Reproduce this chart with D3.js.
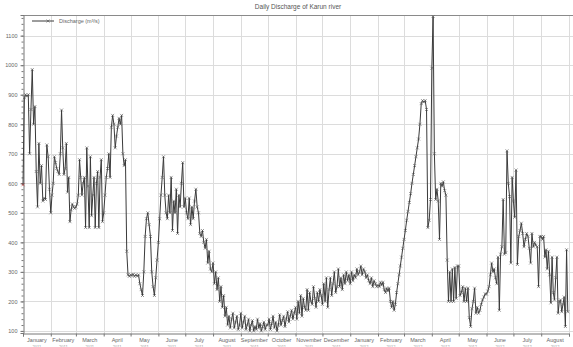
<!DOCTYPE html>
<html>
<head>
<meta charset="utf-8">
<script src="https://cdn.jsdelivr.net/npm/d3@7"></script>
<style>
  body { margin: 0; background: #fff; }
  svg { display: block; }
  text { font-family: "Liberation Sans", Arial, sans-serif; }
</style>
</head>
<body>
<svg id="chart" width="573" height="347"></svg>
<script>
// ---- data -------------------------------------------------------------
const chartTitle = "Daily Discharge of Karun river";
const seriesName = "Discharge (m\u00B3/s)";

const monthNames = ["January","February","March","April","May","June","July","August",
  "September","October","November","December","January","February","March","April",
  "May","June","July","August"];
const monthYears = [2011,2011,2011,2011,2011,2011,2011,2011,2011,2011,2011,2011,
  2012,2012,2012,2012,2012,2012,2012,2012];
const yTickValues = [100,200,300,400,500,600,700,800,900,1000,1100];

// daily discharge readings (m3/s), listed month by month
const jan2011 = [595,890,900,895,900,700,850,985,800,860,640,520,735,600,660,540,550,545,730,690,580];
const feb2011 = [500,560,600,690,670,650,640,630,700,848,720,630,650,735,570,620,470,510,530,520,515];
const mar2011 = [520,530,560,680,620,560,600,620,450,720,590,450,690,490,560,620,450,600,640,450,620,680,470];
const apr2011 = [500,560,620,650,700,620,790,830,800,720,760,790,820,800,830,700,660,680,370,290,285];
const may2011 = [290,288,292,285,290,286,290,260,240,220,300,420,480,500,460,420,300,250,220,280,340];
const jun2011 = [400,480,560,620,690,560,500,480,560,500,620,440,540,500,580,430,560,520,600,670,520];
const jul2011 = [550,500,480,550,460,520,480,540,580,520,500,430,420,440,400,380,410,330,370,310,300];
const aug2011 = [330,260,300,240,280,200,250,180,220,150,180,120,150,110,140,160,110,130,150,105,120];
const sep2011 = [160,110,130,150,105,120,140,100,120,135,100,115,105,140,110,125,100,115,130,105,120];
const oct2011 = [120,140,105,125,150,110,130,100,120,155,120,135,150,115,140,165,130,150,170,140,160];
const nov2011 = [180,140,200,160,220,150,210,180,170,240,170,230,200,190,250,210,180,230,200,240,220];
const dec2011 = [190,260,200,280,180,240,280,220,260,300,230,250,310,250,280,240,290,260,300,270,290];
const jan2012 = [260,300,270,290,280,310,290,300,320,290,310,300,280,290,270,260,280,250,270,260,250];
const feb2012 = [255,250,265,255,265,240,230,245,235,245,200,180,200,170,190,230,260,290,320,350,380];
const mar2012 = [410,440,475,505,535,565,600,630,660,690,720,750,800,870,880,875,880,850,450,475,545];
const apr2012 = [990,1165,700,545,580,540,410,600,590,605,575,560,340,200,300,200,310,200,315,210,320];
const may2012 = [320,220,230,250,200,245,200,245,145,115,175,200,245,160,180,160,170,190,205,215,225];
const jun2012 = [225,235,250,290,330,300,310,280,260,350,170,360,385,545,360,365,710,600,555,330,620];
const jul2012 = [540,485,645,325,420,440,465,430,385,410,430,420,380,330,430,385,400,390,385,250,420];
const aug2012 = [420,410,420,350,375,310,370,290,195,350,230,205,280,350,160,200,205,165,190,215,115,375,165];

const readingsByMonth = [jan2011,feb2011,mar2011,apr2011,may2011,jun2011,jul2011,aug2011,
  sep2011,oct2011,nov2011,dec2011,jan2012,feb2012,mar2012,apr2012,may2012,jun2012,jul2012,aug2012];

// ---- series assembly ----------------------------------------------------
const firstMonth = new Date(2011, 0, 1);
const series = [];
readingsByMonth.forEach((vals, m) => {
  const start = d3.timeMonth.offset(firstMonth, m);
  const end = d3.timeMonth.offset(firstMonth, m + 1);
  const span = end - start;
  vals.forEach((v, i) => series.push({ date: new Date(+start + span * i / vals.length), value: v }));
});
const monthStarts = d3.range(monthNames.length + 1).map(m => d3.timeMonth.offset(firstMonth, m));

// ---- layout -------------------------------------------------------------
const svg = d3.select("#chart");
const plot = { left: 23, right: 569, top: 15, bottom: 333, frameRight: 573 };

const x = d3.scaleTime()
  .domain([monthStarts[0], monthStarts[monthStarts.length - 1]])
  .range([plot.left, plot.right]);
const y = d3.scaleLinear().domain([93, 1170]).range([plot.bottom, plot.top]);

// grid
const grid = svg.append("g").attr("stroke", "#dcdcdc").attr("stroke-width", 1);
grid.selectAll("line.h").data(yTickValues).join("line")
  .attr("x1", plot.left).attr("x2", plot.frameRight)
  .attr("y1", d => Math.round(y(d)) + 0.5).attr("y2", d => Math.round(y(d)) + 0.5);
grid.selectAll("line.v").data(monthStarts.slice(1)).join("line")
  .attr("x1", d => Math.round(x(d)) + 0.5).attr("x2", d => Math.round(x(d)) + 0.5)
  .attr("y1", plot.top).attr("y2", plot.bottom);

// frame: top border
svg.append("line")
  .attr("x1", plot.left).attr("x2", plot.frameRight)
  .attr("y1", plot.top + 0.5).attr("y2", plot.top + 0.5)
  .attr("stroke", "#8a8a8a").attr("stroke-width", 1);

// y axis with minor ticks
const yAxis = svg.append("g").attr("transform", `translate(${plot.left + 0.5},0)`)
  .call(d3.axisLeft(y).tickValues(yTickValues).tickSize(3).tickPadding(3).tickFormat(d3.format("d")));
const yMinor = svg.append("g").attr("transform", `translate(${plot.left + 0.5},0)`)
  .call(d3.axisLeft(y).tickValues(d3.range(100, 1170, 20)).tickSize(2).tickFormat(""));
yMinor.select(".domain").remove();
[yAxis, yMinor].forEach(g => {
  g.selectAll("line").attr("stroke", "#777");
  g.select(".domain").attr("stroke", "#777");
});
yAxis.selectAll("text").attr("font-size", 5.5).attr("fill", "#666");

// x axis: month boundaries, names centred in each month
const xAxis = svg.append("g").attr("transform", `translate(0,${plot.bottom + 0.5})`)
  .call(d3.axisBottom(x).tickValues(monthStarts).tickSize(3).tickFormat(""));
xAxis.select(".domain").attr("stroke", "#777");
xAxis.selectAll("line").attr("stroke", "#777");
const monthMid = monthNames.map((n, i) => ({
  name: n, year: monthYears[i],
  cx: (x(monthStarts[i]) + x(monthStarts[i + 1])) / 2
}));
svg.append("g").selectAll("text").data(monthMid).join("text")
  .attr("x", d => d.cx).attr("y", 342)
  .attr("text-anchor", "middle").attr("font-size", 5.5).attr("fill", "#666")
  .text(d => d.name);
svg.append("g").selectAll("text").data(monthMid).join("text")
  .attr("x", d => d.cx).attr("y", 347.5)
  .attr("text-anchor", "middle").attr("font-size", 4).attr("fill", "#999")
  .text(d => d.year);

// title
svg.append("text").attr("x", 298).attr("y", 9)
  .attr("text-anchor", "middle").attr("font-size", 6.5).attr("fill", "#555")
  .text(chartTitle);

// series line
const line = d3.line().x(d => x(d.date)).y(d => y(d.value));
svg.append("path").datum(series)
  .attr("d", line).attr("fill", "none")
  .attr("stroke", "#3a3a3a").attr("stroke-width", 1).attr("stroke-linejoin", "round");

// x markers on every reading
const cross = "M-1.5,-1.5L1.5,1.5M-1.5,1.5L1.5,-1.5";
svg.append("g").selectAll("path").data(series).join("path")
  .attr("transform", d => `translate(${x(d.date)},${y(d.value)})`)
  .attr("d", cross).attr("fill", "none")
  .attr("stroke", (d, i) => i === 0 ? "#b03030" : "#555").attr("stroke-width", 0.6);

// legend
const lg = svg.append("g").attr("transform", "translate(32,21)");
lg.append("line").attr("x1", 0).attr("x2", 22).attr("y1", 0).attr("y2", 0)
  .attr("stroke", "#3a3a3a").attr("stroke-width", 1);
lg.append("path").attr("transform", "translate(16,0)").attr("d", cross)
  .attr("fill", "none").attr("stroke", "#555").attr("stroke-width", 0.6);
lg.append("text").attr("x", 27).attr("y", 2).attr("font-size", 5.5).attr("fill", "#666")
  .text(seriesName);
</script>
</body>
</html>
